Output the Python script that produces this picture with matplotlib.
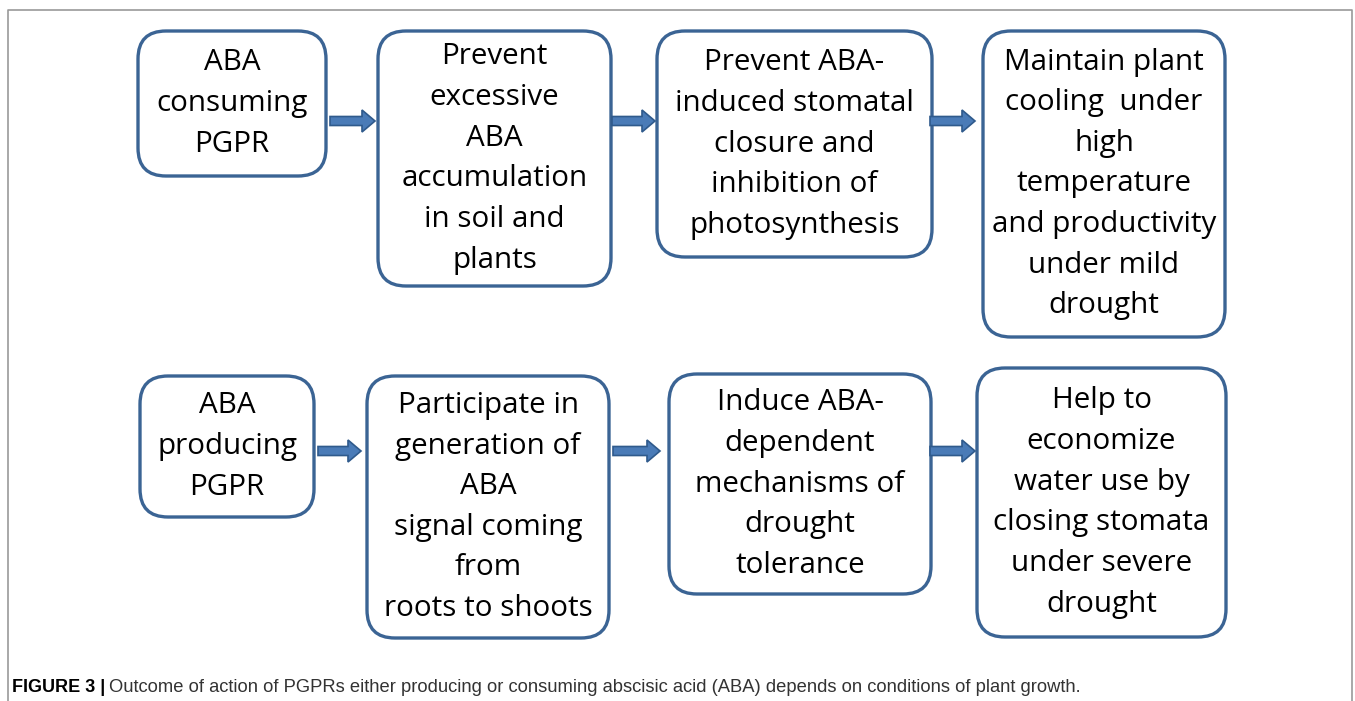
import matplotlib.pyplot as plt
from matplotlib.patches import FancyBboxPatch, FancyArrow

# box texts, top row then bottom row
top_texts = ['ABA\nconsuming\nPGPR',
             'Prevent\nexcessive\nABA\naccumulation\nin soil and\nplants',
             'Prevent ABA-\ninduced stomatal\nclosure and\ninhibition of\nphotosynthesis',
             'Maintain plant\ncooling  under\nhigh\ntemperature\nand productivity\nunder mild\ndrought']
bottom_texts = ['ABA\nproducing\nPGPR',
                'Participate in\ngeneration of\nABA\nsignal coming\nfrom\nroots to shoots',
                'Induce ABA-\ndependent\nmechanisms of\ndrought\ntolerance',
                'Help to\neconomize\nwater use by\nclosing stomata\nunder severe\ndrought']
caption_bold = 'FIGURE 3 |'
caption = ('Outcome of action of PGPRs either producing or consuming abscisic acid (ABA) '
           'depends on conditions of plant growth.')

# layout in pixels (x0, x1, y0, y1)
top_boxes = [(138, 326, 31, 176), (378, 611, 31, 286), (657, 932, 31, 257), (983, 1225, 31, 337)]
bottom_boxes = [(140, 314, 376, 517), (367, 609, 376, 638), (669, 931, 374, 594), (977, 1226, 368, 637)]
top_arrows = [(330, 375, 121), (612, 655, 121), (930, 975, 121)]
bottom_arrows = [(318, 361, 451), (613, 660, 451), (930, 975, 451)]

edge = '#3b6494'
fig = plt.figure(figsize=(13.55, 7.01), dpi=100)
ax = fig.add_axes([0, 0, 1, 1])
ax.set_xlim(0, 1355)
ax.set_ylim(701, 0)
ax.axis('off')

# outer frame
ax.plot([8, 8, 1352, 1352], [701, 10, 10, 701], color='#999999', lw=1.2)

def draw_box(b, txt):
    x0, x1, y0, y1 = b
    r = 28
    p = FancyBboxPatch((x0 + r, y0 + r), x1 - x0 - 2 * r, y1 - y0 - 2 * r,
                       boxstyle='round,pad=%d' % r, fc='white', ec=edge, lw=2.4)
    ax.add_patch(p)
    ax.text((x0 + x1) / 2, (y0 + y1) / 2, txt, ha='center', va='center',
            fontsize=21.3, family='Open Sans', linespacing=1.53, color='black')

def draw_arrow(a):
    x0, x1, y = a
    ax.add_patch(FancyArrow(x0, y, x1 - x0, 0, width=9, head_width=22,
                            head_length=13, length_includes_head=True,
                            fc='#4a7bb7', ec='#2f5a8c', lw=1.2))

for b, t in zip(top_boxes, top_texts):
    draw_box(b, t)
for b, t in zip(bottom_boxes, bottom_texts):
    draw_box(b, t)
for a in top_arrows + bottom_arrows:
    draw_arrow(a)

t1 = ax.text(12, 688, caption_bold, ha='left', va='center', fontsize=13,
             family='Liberation Sans', weight='bold')
fig.canvas.draw()
bb = t1.get_window_extent()
ax.text(12 + bb.width + 4, 688, caption, ha='left', va='center', fontsize=13.2,
        family='Liberation Sans', color='#333333')

fig.savefig('out.png', dpi=100)
